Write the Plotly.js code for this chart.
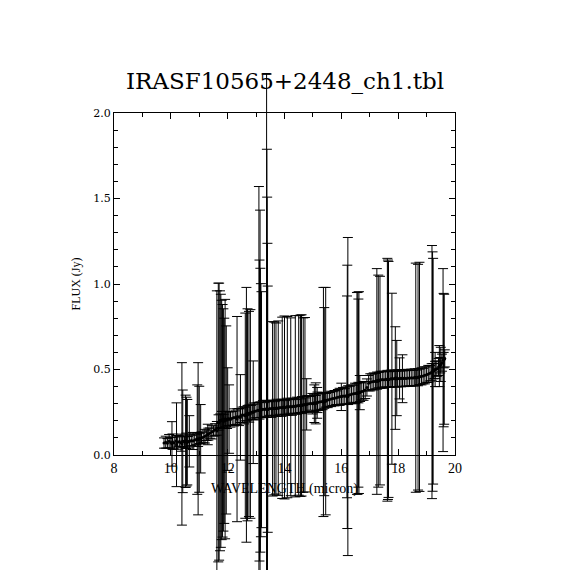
<!DOCTYPE html>
<html>
<head>
<meta charset="utf-8">
<script src="https://cdn.plot.ly/plotly-3.0.1.min.js"></script>
<style>html,body{margin:0;padding:0;background:#fff;}#chart{width:570px;height:570px;}</style>
</head>
<body>
<div id="chart"></div>
<script>
// ---- Spectrum: wavelength (micron), flux (Jy), flux uncertainty (Jy) ----
const wavelength = [
  9.76, 9.82, 9.88, 9.94, 10.00, 10.06, 10.12, 10.18, 10.24, 10.30, 10.36, 10.42, 10.48, 10.54, 10.60, 10.66, 10.72, 10.78, 10.84, 10.90,
  10.96, 11.02, 11.08, 11.14, 11.20, 11.26, 11.32, 11.38, 11.44, 11.50, 11.56, 11.62, 11.68, 11.74, 11.80, 11.86, 11.92, 11.98, 12.04, 12.10,
  12.16, 12.22, 12.28, 12.34, 12.40, 12.46, 12.52, 12.58, 12.64, 12.70, 12.76, 12.82, 12.88, 12.94, 13.00, 13.06, 13.12, 13.18, 13.24, 13.30,
  13.36, 13.42, 13.48, 13.54, 13.60, 13.66, 13.72, 13.78, 13.84, 13.90, 13.96, 14.02, 14.08, 14.14, 14.20, 14.26, 14.32, 14.38, 14.44, 14.50,
  14.56, 14.62, 14.68, 14.74, 14.80, 14.86, 14.92, 14.98, 15.04, 15.10, 15.16, 15.22, 15.28, 15.34, 15.40, 15.46, 15.52, 15.58, 15.64, 15.70,
  15.76, 15.82, 15.88, 15.94, 16.00, 16.06, 16.12, 16.18, 16.24, 16.30, 16.36, 16.42, 16.48, 16.54, 16.60, 16.66, 16.72, 16.78, 16.84, 16.90,
  16.96, 17.02, 17.08, 17.14, 17.20, 17.26, 17.32, 17.38, 17.44, 17.50, 17.56, 17.62, 17.68, 17.74, 17.80, 17.86, 17.92, 17.98, 18.04, 18.10,
  18.16, 18.22, 18.28, 18.34, 18.40, 18.46, 18.52, 18.58, 18.64, 18.70, 18.76, 18.82, 18.88, 18.94, 19.00, 19.06, 19.12, 19.18, 19.24, 19.30,
  19.36, 19.42, 19.48, 19.54, 19.60, 19.64
];
const flux = [
  0.070, 0.075, 0.068, 0.080, 0.072, 0.078, 0.070, 0.082, 0.074, 0.079, 0.072, 0.080, 0.076, 0.083, 0.078, 0.081, 0.085, 0.082, 0.088, 0.092,
  0.090, 0.097, 0.100, 0.104, 0.110, 0.115, 0.122, 0.128, 0.134, 0.140, 0.148, 0.156, 0.190, 0.200, 0.205, 0.198, 0.210, 0.205, 0.212, 0.208,
  0.215, 0.220, 0.218, 0.225, 0.222, 0.230, 0.235, 0.232, 0.240, 0.245, 0.242, 0.250, 0.252, 0.255, 0.258, 0.262, 0.260, 0.265, 0.268, 0.266,
  0.270, 0.268, 0.272, 0.270, 0.274, 0.272, 0.276, 0.274, 0.278, 0.276, 0.280, 0.278, 0.282, 0.280, 0.284, 0.282, 0.286, 0.284, 0.288, 0.290,
  0.288, 0.292, 0.295, 0.294, 0.298, 0.300, 0.302, 0.300, 0.305, 0.303, 0.308, 0.310, 0.312, 0.315, 0.318, 0.320, 0.322, 0.325, 0.328, 0.330,
  0.332, 0.335, 0.338, 0.340, 0.342, 0.345, 0.343, 0.348, 0.350, 0.352, 0.355, 0.358, 0.360, 0.362, 0.365, 0.368, 0.372, 0.375, 0.380, 0.395,
  0.420, 0.425, 0.428, 0.430, 0.432, 0.435, 0.438, 0.440, 0.442, 0.440, 0.443, 0.445, 0.442, 0.446, 0.444, 0.447, 0.445, 0.448, 0.446, 0.449,
  0.447, 0.450, 0.448, 0.451, 0.449, 0.452, 0.450, 0.454, 0.452, 0.455, 0.457, 0.460, 0.462, 0.466, 0.470, 0.474, 0.478, 0.484, 0.490, 0.498,
  0.505, 0.515, 0.525, 0.540, 0.555, 0.565
];
const fluxErr = [
  0.030, 0.035, 0.028, 0.040, 0.030, 0.045, 0.035, 0.030, 0.040, 0.030, 0.050, 0.035, 0.030, 0.045, 0.030, 0.040, 0.030, 0.050, 0.035, 0.030,
  0.040, 0.030, 0.035, 0.030, 0.040, 0.030, 0.035, 0.030, 0.040, 0.030, 0.035, 0.040, 0.045, 0.040, 0.050, 0.040, 0.045, 0.050, 0.040, 0.045,
  0.040, 0.050, 0.040, 0.045, 0.050, 0.040, 0.045, 0.050, 0.040, 0.045, 0.050, 0.040, 0.045, 0.050, 0.040, 0.045, 0.050, 0.045, 0.050, 0.040,
  0.050, 0.045, 0.040, 0.050, 0.045, 0.040, 0.050, 0.045, 0.040, 0.050, 0.045, 0.040, 0.050, 0.045, 0.040, 0.050, 0.045, 0.040, 0.050, 0.045,
  0.040, 0.050, 0.045, 0.040, 0.050, 0.045, 0.040, 0.060, 0.050, 0.045, 0.060, 0.050, 0.045, 0.050, 0.045, 0.040, 0.045, 0.040, 0.045, 0.040,
  0.045, 0.040, 0.045, 0.050, 0.045, 0.050, 0.045, 0.050, 0.055, 0.050, 0.055, 0.050, 0.060, 0.055, 0.060, 0.055, 0.050, 0.055, 0.050, 0.050,
  0.045, 0.050, 0.045, 0.050, 0.045, 0.050, 0.045, 0.050, 0.045, 0.050, 0.045, 0.050, 0.045, 0.050, 0.045, 0.050, 0.045, 0.050, 0.045, 0.050,
  0.045, 0.050, 0.045, 0.050, 0.045, 0.050, 0.045, 0.050, 0.045, 0.050, 0.045, 0.050, 0.045, 0.050, 0.045, 0.050, 0.045, 0.050, 0.045, 0.050,
  0.045, 0.050, 0.045, 0.050, 0.045, 0.050
];

// ---- Noisy samples with large uncertainties ----
const wavelengthNoisy = [
  10.04, 10.20, 10.39, 10.42, 10.52, 10.55, 10.58, 10.65, 10.93, 10.96, 11.00, 11.05, 11.30,
  11.62, 11.67, 11.70, 11.73, 11.76, 11.79, 11.82, 11.85, 11.88, 11.91, 11.95, 12.00, 12.05,
  12.33, 12.45, 12.62, 12.66, 12.70, 12.75, 12.80, 12.90,
  13.10, 13.12, 13.14, 13.15, 13.17, 13.19, 13.37, 13.38, 13.39, 13.40, 13.41,
  13.58, 13.64, 13.70, 13.78, 13.92, 14.00, 14.10, 14.22, 14.38, 14.50, 14.56, 14.60, 14.66, 14.72, 14.78, 15.05, 15.10, 15.15,
  15.37, 15.40, 15.45, 16.00, 16.20, 16.21, 16.23, 16.55, 16.58, 16.60, 16.62, 16.65,
  17.25, 17.30, 17.36, 17.62, 17.64, 17.66, 17.78, 17.90, 17.95, 18.05, 18.15,
  18.62, 18.70, 18.75, 19.19, 19.21, 19.23, 19.30, 19.45, 19.50, 19.58, 19.60, 19.62
];
const fluxNoisy = [
  0.065, 0.060, 0.065, 0.080, 0.080, 0.078, 0.075, 0.080, 0.090, 0.095, 0.092, 0.095, 0.120,
  0.140, 0.190, 0.195, 0.200, 0.200, 0.205, 0.200, 0.205, 0.200, 0.210, 0.205, 0.210, 0.210,
  0.210, 0.220, 0.230, 0.235, 0.235, 0.240, 0.240, 0.250,
  0.260, 0.260, 0.262, 0.262, 0.262, 0.265, 0.268, 0.268, 0.268, 0.268, 0.268,
  0.270, 0.272, 0.272, 0.274, 0.276, 0.278, 0.280, 0.282, 0.285, 0.290, 0.288, 0.290, 0.292, 0.294, 0.296, 0.300, 0.302, 0.305,
  0.310, 0.312, 0.315, 0.340, 0.340, 0.340, 0.342, 0.360, 0.362, 0.362, 0.365, 0.365,
  0.430, 0.432, 0.435, 0.440, 0.440, 0.442, 0.446, 0.450, 0.450, 0.448, 0.446,
  0.452, 0.455, 0.457, 0.485, 0.488, 0.490, 0.500, 0.520, 0.530, 0.555, 0.555, 0.560
];
const fluxErrNoisy = [
  0.130, 0.245, 0.475, 0.300, 0.270, 0.260, 0.250, 0.150, 0.320, 0.445, 0.310, 0.200, 0.060,
  0.820, 0.815, 0.810, 0.760, 0.740, 0.700, 0.680, 0.650, 0.600, 0.700, 0.550, 0.300, 0.200,
  0.600, 0.250, 0.600, 0.745, 0.620, 0.600, 0.610, 0.300,
  1.310, 0.880, 1.170, 0.830, 0.740, 0.690, 1.960, 1.520, 1.240, 0.970, 0.720,
  0.510, 0.505, 0.500, 0.510, 0.530, 0.535, 0.530, 0.520, 0.530, 0.525, 0.530, 0.530, 0.510, 0.510, 0.150, 0.110, 0.120, 0.090,
  0.670, 0.550, 0.665, 0.080, 0.590, 0.770, 0.930, 0.590, 0.590, 0.550, 0.590, 0.100,
  0.660, 0.620, 0.610, 0.710, 0.700, 0.690, 0.500, 0.300, 0.220, 0.120, 0.140,
  0.670, 0.660, 0.670, 0.740, 0.700, 0.660, 0.100, 0.120, 0.100, 0.535, 0.390, 0.380
];

const chartTitle = 'IRASF10565+2448_ch1.tbl';
const xTitle = 'WAVELENGTH (micron)';
const yTitle = 'FLUX (Jy)';
const xRange = [8, 20];
const yRange = [0, 2];

// ---- geometry (pixels) ----
const W = 570, H = 570;
const plotL = 114, plotR = 455, plotT = 113, plotB = 455;

// The framed axes occupy the plot box; a second, invisible pair of axes
// spans the whole figure with the same data->pixel scale, so that the
// error bars are not clipped at the frame (as in the reference).
const xPerPx = (xRange[1] - xRange[0]) / (plotR - plotL);
const yPerPx = (yRange[1] - yRange[0]) / (plotB - plotT);
const xFullRange = [xRange[0] - plotL * xPerPx, xRange[1] + (W - plotR) * xPerPx];
const yFullRange = [yRange[0] - (H - plotB) * yPerPx, yRange[1] + plotT * yPerPx];

function spectrumTrace(x, y, e) {
  return {
    type: 'scatter', mode: 'markers', x: x, y: y, xaxis: 'x2', yaxis: 'y2',
    marker: {color: '#000', size: 3},
    error_y: {type: 'data', array: e, visible: true, color: '#000', thickness: 1, width: 5},
    showlegend: false, hoverinfo: 'skip'
  };
}

const data = [
  {type: 'scatter', mode: 'markers', x: [], y: [], xaxis: 'x', yaxis: 'y', showlegend: false},
  spectrumTrace(wavelengthNoisy, fluxNoisy, fluxErrNoisy),
  spectrumTrace(wavelength, flux, fluxErr)
];

const serif = 'DejaVu Serif, serif';
const times = 'Liberation Serif, serif';
const layout = {
  width: W, height: H,
  margin: {l: 0, r: 0, t: 0, b: 0, pad: 0},
  paper_bgcolor: '#fff', plot_bgcolor: 'rgba(0,0,0,0)',
  showlegend: false,
  title: {text: chartTitle, font: {family: serif, size: 23, color: '#000'},
          x: 0.5, xref: 'paper', xanchor: 'center', y: 1 - 81 / H, yref: 'container', yanchor: 'middle'},
  xaxis: {
    domain: [plotL / W, plotR / W], anchor: 'y',
    range: xRange, tick0: 8, dtick: 2, ticks: 'inside', ticklen: 6, tickwidth: 1, tickcolor: '#000',
    minor: {dtick: 1, ticks: 'inside', ticklen: 4, tickcolor: '#000'},
    showline: true, linecolor: '#000', linewidth: 1, mirror: 'allticks',
    showgrid: false, zeroline: false, automargin: false,
    tickfont: {family: times, size: 14, color: '#000'},
    title: {text: xTitle, font: {family: times, size: 14, color: '#000'}, standoff: 8}
  },
  yaxis: {
    domain: [(H - plotB) / H, (H - plotT) / H], anchor: 'x',
    range: yRange, tick0: 0, dtick: 0.5, tickformat: '.1f', ticks: 'inside', ticklen: 6, tickwidth: 1, tickcolor: '#000',
    minor: {dtick: 0.1, ticks: 'inside', ticklen: 4, tickcolor: '#000'},
    showline: true, linecolor: '#000', linewidth: 1, mirror: 'allticks',
    showgrid: false, zeroline: false, automargin: false,
    tickfont: {family: serif, size: 11, color: '#000'},
    title: {text: yTitle, font: {family: times, size: 12, color: '#000'}, standoff: 10}
  },
  xaxis2: {domain: [0, 1], anchor: 'y2', range: xFullRange, visible: false, fixedrange: true},
  yaxis2: {domain: [0, 1], anchor: 'x2', range: yFullRange, visible: false, fixedrange: true}
};

Plotly.newPlot('chart', data, layout, {staticPlot: true, displayModeBar: false});
</script>
</body>
</html>
